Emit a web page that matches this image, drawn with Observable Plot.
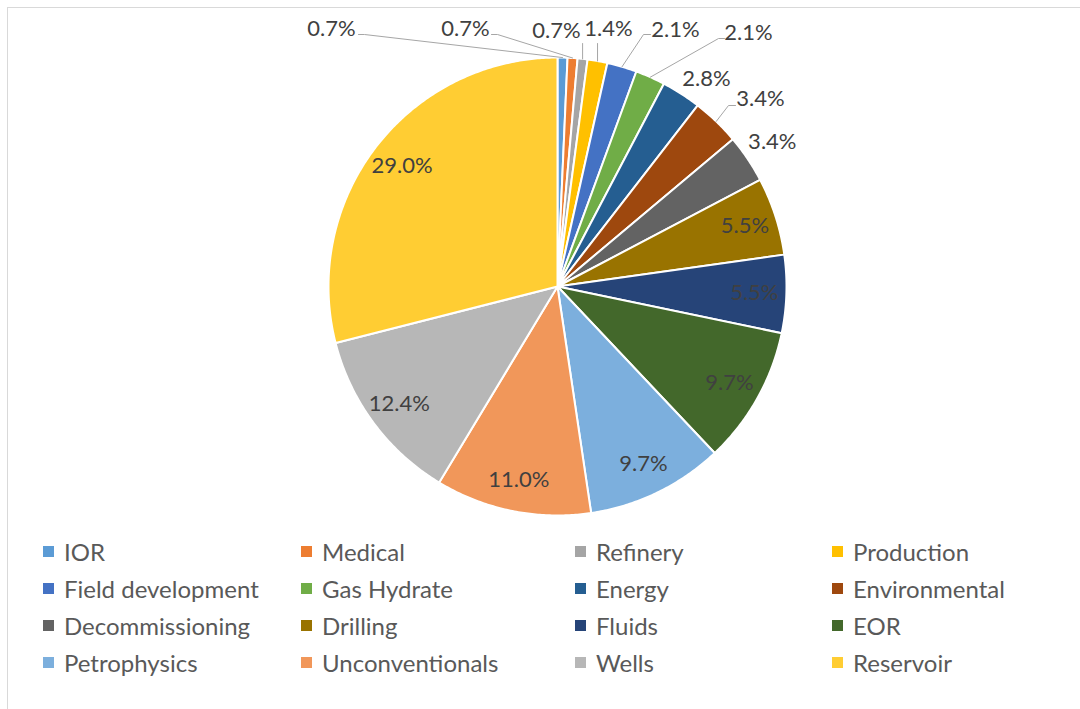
<!DOCTYPE html>
<html><head><meta charset="utf-8">
<script src="https://cdn.jsdelivr.net/npm/d3@7"></script>
<script src="https://cdn.jsdelivr.net/npm/@observablehq/plot@0.6"></script>
<style>
body{margin:0;background:#fff;font-family:Lato,sans-serif;}
#wrap{position:relative;width:1080px;height:709px;overflow:hidden;background:#fff;}
#frame{position:absolute;left:7px;top:7px;width:1100px;height:730px;border:1px solid #d9d9d9;}
#chart{position:absolute;left:0;top:0;}
#legend{position:absolute;left:43px;top:533px;display:grid;grid-template-columns:258px 274px 257px 220px;grid-auto-rows:37px;font-size:24px;color:#595959;}
.item{display:flex;align-items:center;white-space:nowrap;}
.sw{width:11px;height:11px;margin-right:10px;flex:none;}
</style></head><body>
<div id="wrap"><div id="frame"></div><div id="chart"></div><div id="legend"></div></div>
<script>
// ---- data ----
const categories = ["IOR","Medical","Refinery","Production","Field development","Gas Hydrate","Energy","Environmental","Decommissioning","Drilling","Fluids","EOR","Petrophysics","Unconventionals","Wells","Reservoir"];
const shares = [0.7,0.7,0.7,1.4,2.1,2.1,2.8,3.4,3.4,5.5,5.5,9.7,9.7,11.0,12.4,29.0];
const colors = ["#5B9BD5","#ED7D31","#A5A5A5","#FFC000","#4472C4","#70AD47","#255E91","#9E480E","#636363","#997300","#264478","#43682B","#7CAFDD","#F1975A","#B7B7B7","#FFCD33"];

// ---- layout (pixel units relative to pie centre, y up) ----
const W = 1080, H = 530, CX = 557, CY = 286, R = 229;
// labels moved by hand in the original: text centre and leader elbow/end
const movedLabels = {
  "IOR":               {t:[-226,258], a:"middle", leader:[[-193,252],[-199,252]]},
  "Medical":           {t:[-92,258],  a:"middle", leader:[[-60,252],[-66,252]]},
  "Refinery":          {t:[-1,256],   a:"middle", leader:[["v",243]]},
  "Production":        {t:[51,258],   a:"middle", leader:[["v",243]]},
  "Field development": {t:[118,257],  a:"middle", leader:[[86,252],[93,252]]},
  "Gas Hydrate":       {t:[191,254],  a:"middle", leader:[[161,248],[167,248]]},
  "Energy":            {t:[149,208],  a:"middle", leader:[]},
  "Environmental":     {t:[203,188],  a:"middle", leader:[[171,181],[178,181]]}
};

const rows = categories.map((name,i)=>({name, share:shares[i], color:colors[i]}));
const arcs = d3.pie().sort(null).value(d=>d.share).startAngle(0).endAngle(2*Math.PI)(rows);

const slicePts = arcs.flatMap(p=>{
  const n = Math.max(2, Math.ceil((p.endAngle-p.startAngle)/(Math.PI/360)));
  const pts = [{name:p.data.name, x:0, y:0}];
  for (let i=0;i<=n;i++){
    const a = p.startAngle + (p.endAngle-p.startAngle)*i/n;
    pts.push({name:p.data.name, x:R*Math.sin(a), y:R*Math.cos(a)});
  }
  pts.push({name:p.data.name, x:0, y:0});
  return pts;
});

const labels = [], leaders = [];
arcs.forEach(p=>{
  const name = p.data.name, m = (p.startAngle+p.endAngle)/2;
  const txt = p.data.share.toFixed(1)+"%";
  const mv = movedLabels[name];
  if (mv){
    labels.push({name, x:mv.t[0], y:mv.t[1], text:txt, anchor:mv.a});
    if (mv.leader.length){
      const sx = R*Math.sin(m), sy = R*Math.cos(m);
      leaders.push({name, x:sx, y:sy});
      mv.leader.forEach(q=>{
        if (q[0]==="v") leaders.push({name, x:sx, y:q[1]});
        else leaders.push({name, x:q[0], y:q[1]});
      });
    }
  } else if (p.data.share >= 5){
    const r = 0.86*R;
    labels.push({name, x:r*Math.sin(m), y:r*Math.cos(m), text:txt, anchor:"middle"});
  } else {
    const r = 1.13*R;
    labels.push({name, x:r*Math.sin(m), y:r*Math.cos(m), text:txt, anchor:"middle"});
  }
});

const chart = Plot.plot({
  width: W, height: H,
  margin: 0,
  style: {fontFamily: "Lato, sans-serif", background: "transparent"},
  x: {domain:[-CX, W-CX], range:[0, W], axis:null},
  y: {domain:[-(H-CY), CY], range:[H, 0], axis:null},
  color: {domain: categories, range: colors},
  marks: [
    Plot.line(slicePts, {x:"x", y:"y", z:"name", fill:"name", stroke:"white", strokeWidth:2, strokeLinejoin:"round", curve:"linear"}),
    Plot.line(leaders, {x:"x", y:"y", z:"name", stroke:"#a6a6a6", strokeWidth:1}),
    Plot.text(labels, {x:"x", y:"y", text:"text", textAnchor:"anchor", fill:"#404040", fontSize:22})
  ]
});
document.getElementById("chart").appendChild(chart);

const leg = document.getElementById("legend");
rows.forEach(d=>{
  const it = document.createElement("div"); it.className="item";
  const sw = document.createElement("span"); sw.className="sw"; sw.style.background=d.color;
  const tx = document.createElement("span"); tx.textContent=d.name;
  it.appendChild(sw); it.appendChild(tx); leg.appendChild(it);
});
</script></body></html>
